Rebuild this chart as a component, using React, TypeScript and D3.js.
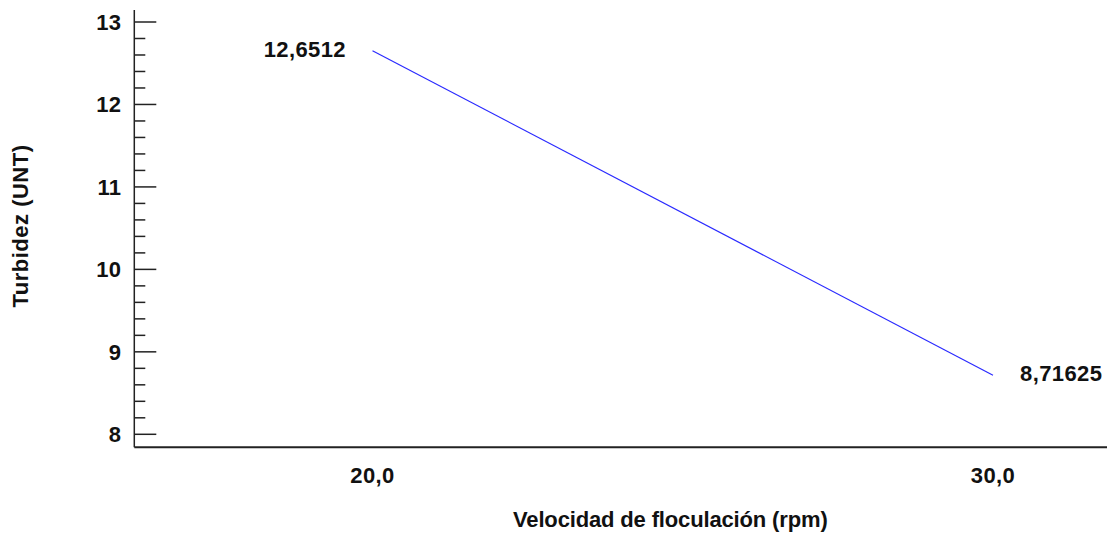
import React from "react";
import * as d3 from "d3";

const xValues = [20, 30];
const yValues = [12.6512, 8.71625];
const pointLabels = ["12,6512", "8,71625"];
const xTickValues = [20, 30];
const xTickLabels = ["20,0", "30,0"];
const yTickValues = [8, 9, 10, 11, 12, 13];
const xTitle = "Velocidad de floculación (rpm)";
const yTitle = "Turbidez (UNT)";

const W = 1108;
const H = 537;
const FONT = "'Liberation Sans', Arial, sans-serif";
const FS = 22;

export default function App() {
  const x = d3.scaleLinear().domain([20, 30]).range([372.5, 993]);
  const y = d3.scaleLinear().domain([8, 13]).range([434.3, 22]);
  const axisX = 134.3;
  const axisY = 447.3;

  const minor: number[] = [];
  for (let i = 0; i < yTickValues.length - 1; i++) {
    for (let k = 1; k < 5; k++) minor.push(yTickValues[i] + k * 0.2);
  }

  const line = d3
    .line<number>()
    .x((_, i) => x(xValues[i]))
    .y((d) => y(d));

  return (
    <svg
      width={W}
      height={H}
      style={{ position: "absolute", left: 0, top: 0, background: "#fff" }}
      fontFamily={FONT}
      fontWeight="bold"
      fontSize={FS}
    >
      <rect width={W} height={H} fill="#fff" />
      <line x1={axisX} x2={axisX} y1={10} y2={axisY} stroke="#222" strokeWidth={1.5} />
      {yTickValues.map((v) => (
        <g key={"yt" + v}>
          <line x1={axisX} x2={axisX + 22} y1={y(v)} y2={y(v)} stroke="#222" strokeWidth={1.5} />
          <text x={121.5} y={y(v)} dy="0.36em" textAnchor="end" fill="#111" letterSpacing={0.4}>
            {String(v)}
          </text>
        </g>
      ))}
      {minor.map((v, i) => (
        <line key={"m" + i} x1={axisX} x2={axisX + 11} y1={y(v)} y2={y(v)} stroke="#222" strokeWidth={1.5} />
      ))}
      <line x1={axisX} x2={1107} y1={axisY} y2={axisY} stroke="#222" strokeWidth={2} />
      {xTickValues.map((v, i) => (
        <text key={"xt" + v} x={x(v)} y={483} textAnchor="middle" fill="#111" letterSpacing={0.4}>
          {xTickLabels[i]}
        </text>
      ))}
      <text x={513} y={527} textAnchor="start" fill="#111" letterSpacing={-0.15}>
        {xTitle}
      </text>
      <text transform="translate(28.3,226) rotate(-90)" textAnchor="middle" fill="#111" letterSpacing={0.5}>
        {yTitle}
      </text>
      <path d={line(yValues) || ""} fill="none" stroke="#2a2aff" strokeWidth={1.2} />
      <text x={346} y={57} textAnchor="end" fill="#111" letterSpacing={0.4}>
        {pointLabels[0]}
      </text>
      <text x={1020} y={381} textAnchor="start" fill="#111" letterSpacing={0.4}>
        {pointLabels[1]}
      </text>
    </svg>
  );
}
